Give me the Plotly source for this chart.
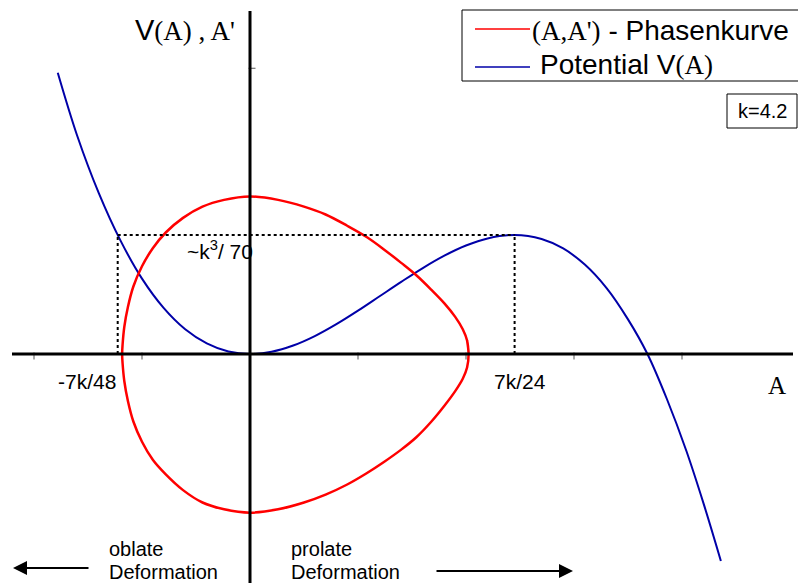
import plotly.graph_objects as go

# Potential V(A) for k = 4.2 (deformation A, barrier top at 7k/24)
pot_A = [-0.89, -0.80, -0.70, -0.60, -0.50, -0.40, -0.30, -0.20, -0.10, 0.0,
         0.10, 0.20, 0.30, 0.40, 0.50, 0.60, 0.70, 0.80, 0.90, 1.00, 1.10,
         1.225, 1.35, 1.45, 1.55, 1.65, 1.75, 1.84, 1.93, 2.02, 2.10, 2.18]
pot_V = [2.50, 1.94, 1.43, 1.01, 0.67, 0.41, 0.22, 0.094, 0.022, 0.0,
         0.020, 0.075, 0.159, 0.265, 0.385, 0.513, 0.641, 0.764, 0.874, 0.964,
         1.027, 1.058, 1.022, 0.938, 0.795, 0.588, 0.308, 0.0, -0.40, -0.86,
         -1.33, -1.84]

# Phase curve (A, A'): closed orbit, upper branch right -> left, then lower
phase_A = [1.012, 1.005, 0.985, 0.95, 0.90, 0.84, 0.77, 0.70, 0.62, 0.54,
           0.45, 0.35, 0.25, 0.13, 0.0, -0.12, -0.22, -0.31, -0.39, -0.45,
           -0.50, -0.54, -0.565, -0.582, -0.59, -0.592,
           -0.59, -0.582, -0.565, -0.54, -0.50, -0.45, -0.39, -0.31, -0.22,
           -0.12, 0.0, 0.13, 0.25, 0.35, 0.45, 0.54, 0.62, 0.70, 0.77, 0.84,
           0.90, 0.95, 0.985, 1.005, 1.012, 1.005]
phase_dA = [0.0, 0.12, 0.22, 0.33, 0.45, 0.57, 0.70, 0.81, 0.93, 1.04,
            1.14, 1.24, 1.31, 1.37, 1.40, 1.37, 1.31, 1.21, 1.08, 0.94,
            0.78, 0.60, 0.42, 0.24, 0.08, 0.0,
            -0.08, -0.24, -0.42, -0.60, -0.78, -0.94, -1.07, -1.21, -1.32,
            -1.38, -1.41, -1.38, -1.32, -1.25, -1.16, -1.06, -0.96, -0.85,
            -0.74, -0.60, -0.46, -0.33, -0.22, -0.12, 0.0, 0.12]

# Characteristic points
A_barrier = 1.225      # 7k/24
A_left = -0.6125       # -7k/48
V_barrier = 1.058      # ~k^3/70
x_ticks = [-1.0, -0.5, 0.5, 1.0, 1.5, 2.0]
y_ticks = [2.54]

W, H = 798, 583
X0, SX = 250.0, 216.0   # pixel of A=0, pixels per unit
Y0, SY = 354.0, 112.5

x_range = [(0 - X0) / SX, (W - X0) / SX]
y_range = [(Y0 - H) / SY, (Y0 - 0) / SY]


def dx(px):
    return (px - X0) / SX


def dy(py):
    return (Y0 - py) / SY


def fx(px):
    return px / W


def fy(py):
    return 1 - py / H


SANS = "Liberation Sans, Arial, sans-serif"
SERIF = "'Liberation Serif', 'Times New Roman', serif"


def serif(t, size):
    return (f"<span style=\"font-family:{SERIF};font-size:{size}px\">"
            f"{t}</span>")


fig = go.Figure()

fig.add_trace(go.Scatter(
    x=pot_A, y=pot_V, mode="lines",
    line=dict(color="#0000a8", width=2, shape="spline", smoothing=1.0),
    hoverinfo="skip", showlegend=False))

fig.add_trace(go.Scatter(
    x=phase_A, y=phase_dA, mode="lines",
    line=dict(color="#ff0000", width=2.5, shape="spline", smoothing=1.0),
    hoverinfo="skip", showlegend=False))

# tiny tick marks on the axes
fig.add_trace(go.Scatter(
    x=x_ticks, y=[dy(356)] * len(x_ticks), mode="markers",
    marker=dict(symbol="line-ns", size=5, line=dict(color="#555", width=1)),
    hoverinfo="skip", showlegend=False))
fig.add_trace(go.Scatter(
    x=[dx(252)] * len(y_ticks), y=y_ticks, mode="markers",
    marker=dict(symbol="line-ew", size=5, line=dict(color="#555", width=1)),
    hoverinfo="skip", showlegend=False))

shapes = []
# axes
shapes.append(dict(type="line", xref="x", yref="y", x0=dx(12), x1=dx(793),
                   y0=0, y1=0, line=dict(color="black", width=3)))
shapes.append(dict(type="line", xref="x", yref="y", x0=0, x1=0,
                   y0=dy(11), y1=dy(583), line=dict(color="black", width=3)))
# dotted guides
dot = dict(color="black", width=2, dash="dot")
shapes.append(dict(type="line", xref="x", yref="y", x0=A_left, x1=A_barrier,
                   y0=V_barrier, y1=V_barrier, line=dot))
shapes.append(dict(type="line", xref="x", yref="y", x0=A_left, x1=A_left,
                   y0=0, y1=V_barrier, line=dot))
shapes.append(dict(type="line", xref="x", yref="y", x0=A_barrier, x1=A_barrier,
                   y0=0, y1=V_barrier, line=dot))
# legend frame and samples
shapes.append(dict(type="rect", xref="paper", yref="paper",
                   x0=fx(462), x1=fx(805), y0=fy(81), y1=fy(10),
                   line=dict(color="black", width=1), fillcolor="white"))
shapes.append(dict(type="line", xref="paper", yref="paper",
                   x0=fx(475), x1=fx(530), y0=fy(29), y1=fy(29),
                   line=dict(color="#ff0000", width=1.5)))
shapes.append(dict(type="line", xref="paper", yref="paper",
                   x0=fx(475), x1=fx(530), y0=fy(67), y1=fy(67),
                   line=dict(color="#0000a8", width=1.5)))
# k box
shapes.append(dict(type="rect", xref="paper", yref="paper",
                   x0=fx(727), x1=fx(797), y0=fy(128), y1=fy(94),
                   line=dict(color="black", width=1), fillcolor="white"))

ann = []


def label(x, y, text, size, xanchor="center", family=SANS, xref="x", yref="y"):
    ann.append(dict(x=x, y=y, xref=xref, yref=yref, text=text, showarrow=False,
                    xanchor=xanchor, yanchor="middle",
                    font=dict(family=family, size=size, color="black")))


label(dx(133), dy(30), "V" + serif("(A) , A'", 27), 29, xanchor="left")
label(dx(766), dy(385), "A", 25, xanchor="left", family=SERIF)
label(dx(56), dy(381), "-7k/48", 21, xanchor="left")
label(dx(492), dy(381), "7k/24", 21, xanchor="left")
label(dx(185), dy(250), "~k<sup>3</sup>/ 70", 21, xanchor="left")
label(fx(530), fy(30), serif("(A,A')", 27) + " - Phasenkurve", 28,
      xanchor="left", xref="paper", yref="paper")
label(fx(538), fy(64), "Potential V" + serif("(A)", 27), 28, xanchor="left",
      xref="paper", yref="paper")
label(fx(762), fy(111), "k=4.2", 20, xref="paper", yref="paper")
label(dx(107), dy(549), "oblate", 20, xanchor="left")
label(dx(107), dy(572), "Deformation", 20, xanchor="left")
label(dx(289), dy(549), "prolate", 20, xanchor="left")
label(dx(289), dy(572), "Deformation", 20, xanchor="left")

# direction arrows
ann.append(dict(x=dx(13), y=dy(568), ax=dx(90), ay=dy(568), xref="x", yref="y",
                axref="x", ayref="y", text="", showarrow=True, arrowhead=2,
                arrowsize=1.4, arrowwidth=2, arrowcolor="black"))
ann.append(dict(x=dx(573), y=dy(571), ax=dx(435), ay=dy(571), xref="x", yref="y",
                axref="x", ayref="y", text="", showarrow=True, arrowhead=2,
                arrowsize=1.4, arrowwidth=2, arrowcolor="black"))

fig.update_layout(
    width=W, height=H,
    margin=dict(l=0, r=0, t=0, b=0),
    paper_bgcolor="white", plot_bgcolor="white",
    xaxis=dict(range=x_range, visible=False, fixedrange=True),
    yaxis=dict(range=y_range, visible=False, fixedrange=True),
    shapes=shapes, annotations=ann, showlegend=False,
)

fig.write_html("out.html")
